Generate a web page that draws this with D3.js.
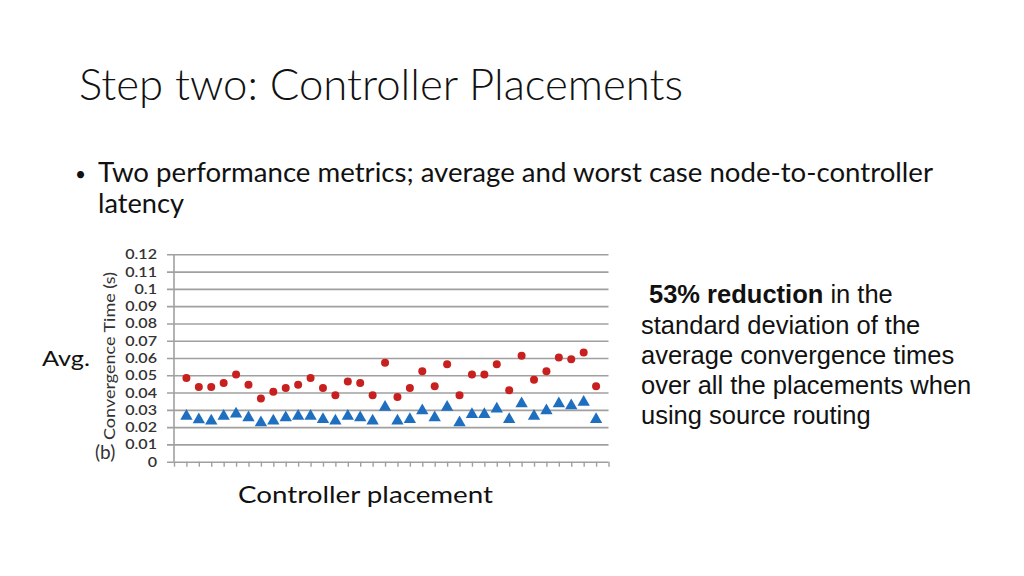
<!DOCTYPE html>
<html>
<head>
<meta charset="utf-8">
<script src="https://cdn.jsdelivr.net/npm/d3@7"></script>
<style>
  html, body { margin: 0; padding: 0; background: #fff; }
  svg { display: block; }
</style>
</head>
<body>
<svg id="chart" width="1024" height="576"></svg>
<script>
// ---- data ----
const placements = d3.range(1, 35); // 34 controller placements
const worstCase = [0.0484, 0.0432, 0.0432, 0.0455, 0.0505, 0.0445, 0.0365, 0.0405, 0.0426, 0.0445,
                   0.0484, 0.0426, 0.0385, 0.0464, 0.0455, 0.0385, 0.0572, 0.0374, 0.0426, 0.0524,
                   0.0436, 0.0564, 0.0385, 0.0505, 0.0505, 0.0564, 0.0414, 0.0613, 0.0474, 0.0524,
                   0.0603, 0.0593, 0.0632, 0.0436];
const average   = [0.0263, 0.0243, 0.0236, 0.0264, 0.0276, 0.0255, 0.0226, 0.0236, 0.0255, 0.0264,
                   0.0264, 0.0245, 0.0236, 0.0264, 0.0255, 0.0236, 0.0316, 0.0236, 0.0245, 0.0295,
                   0.0255, 0.0316, 0.0226, 0.0274, 0.0274, 0.0305, 0.0245, 0.0336, 0.0264, 0.0295,
                   0.0336, 0.0324, 0.0345, 0.0245];
const yTickValues = d3.range(0, 13).map(i => i / 100);
const yTickLabels = ["0", "0.01", "0.02", "0.03", "0.04", "0.05", "0.06", "0.07", "0.08", "0.09", "0.1", "0.11", "0.12"];
const xTickValues = d3.range(0, 36);

const titleText = "Step two: Controller Placements";
const bulletLines = ["Two performance metrics; average and worst case node-to-controller", "latency"];
const sideLines = ["standard deviation of the", "average convergence times", "over all the placements when", "using source routing"];

// ---- layout ----
const svg = d3.select("#chart");
const x = d3.scaleLinear().domain([0, 35]).range([174, 608.5]);
const y = d3.scaleLinear().domain([0, 0.12]).range([461.7, 254.3]);
const gridLeft = 167;
const gridColor = "#a0a0a0";
const calibri = "Lato, 'Open Sans', sans-serif";

// Title
svg.append("text")
  .attr("x", 79).attr("y", 100)
  .attr("font-family", calibri).attr("font-weight", 300)
  .attr("font-size", 44).attr("fill", "#111")
  .attr("textLength", 604).attr("lengthAdjust", "spacingAndGlyphs")
  .text(titleText);

// Bullet
svg.append("text")
  .attr("x", 75).attr("y", 181)
  .attr("font-family", calibri).attr("font-size", 19).attr("fill", "#111")
  .text("•");
svg.append("text")
  .attr("x", 98).attr("y", 182)
  .attr("font-family", calibri).attr("font-size", 27).attr("fill", "#111")
  .attr("textLength", 835).attr("lengthAdjust", "spacingAndGlyphs")
  .text(bulletLines[0]);
svg.append("text")
  .attr("x", 98).attr("y", 213)
  .attr("font-family", calibri).attr("font-size", 27).attr("fill", "#111")
  .attr("textLength", 86).attr("lengthAdjust", "spacingAndGlyphs")
  .text(bulletLines[1]);

// Gridlines + y tick labels via axis
const yAxis = d3.axisLeft(y)
  .tickValues(yTickValues)
  .tickSize(-(x.range()[1] - gridLeft))
  .tickPadding(10)
  .tickFormat((d, i) => yTickLabels[i]);
const gy = svg.append("g").attr("transform", `translate(${gridLeft},0)`).call(yAxis);
gy.select(".domain").remove();
gy.selectAll(".tick line").attr("stroke", gridColor).attr("stroke-width", 1.6);
gy.selectAll(".tick text")
  .attr("font-family", calibri).attr("font-size", 14).attr("font-weight", 600).attr("fill", "#333")
  .each(function () {
    const w = this.getComputedTextLength();
    d3.select(this).attr("textLength", w * 1.15).attr("lengthAdjust", "spacingAndGlyphs");
  });

// Vertical axis line
svg.append("line")
  .attr("x1", x(0)).attr("x2", x(0))
  .attr("y1", y(0)).attr("y2", y(0.12))
  .attr("stroke", gridColor).attr("stroke-width", 1.6);

// X axis ticks
const xAxis = d3.axisBottom(x).tickValues(xTickValues).tickSize(5).tickFormat("");
const gx = svg.append("g").attr("transform", `translate(0,${y(0)})`).call(xAxis);
gx.select(".domain").remove();
gx.selectAll(".tick line").attr("stroke", gridColor).attr("stroke-width", 1.4);

// Y axis title
svg.append("text")
  .attr("transform", `translate(115,${(y(0.12) + y(0.0)) / 2 - 2}) rotate(-90)`)
  .attr("text-anchor", "middle")
  .attr("font-family", calibri).attr("font-size", 16).attr("fill", "#333")
  .attr("textLength", 168).attr("lengthAdjust", "spacingAndGlyphs")
  .text("Convergence Time (s)");

// (b)
svg.append("text")
  .attr("x", 95).attr("y", 459)
  .attr("font-family", calibri).attr("font-size", 19).attr("fill", "#333")
  .text("(b)");

// Markers: worst case (red circles)
svg.append("g").selectAll("circle")
  .data(placements)
  .join("circle")
  .attr("cx", (d) => x(d))
  .attr("cy", (d, i) => y(worstCase[i]))
  .attr("r", 4)
  .attr("fill", "#c8201e");

// Markers: average (blue triangles)
const tri = d3.symbol().type(d3.symbolTriangle).size(66);
svg.append("g").selectAll("path")
  .data(placements)
  .join("path")
  .attr("d", tri)
  .attr("transform", (d, i) => `translate(${x(d)},${y(average[i])})`)
  .attr("fill", "#1f6fc0");

// Avg. label
svg.append("text")
  .attr("x", 42).attr("y", 366)
  .attr("font-family", calibri).attr("font-size", 22).attr("fill", "#111")
  .attr("textLength", 48).attr("lengthAdjust", "spacingAndGlyphs")
  .text("Avg.");

// X label
svg.append("text")
  .attr("x", 238).attr("y", 503)
  .attr("font-family", calibri).attr("font-size", 23).attr("fill", "#111")
  .attr("textLength", 255).attr("lengthAdjust", "spacingAndGlyphs")
  .text("Controller placement");

// Side annotation
const arial = "'Liberation Sans', Arial, sans-serif";
const first = svg.append("text")
  .attr("x", 649).attr("y", 303)
  .attr("font-family", arial).attr("font-size", 25.5).attr("fill", "#111");
first.append("tspan").attr("font-weight", "bold").text("53% reduction");
first.append("tspan").text(" in the");
sideLines.forEach((t, i) => {
  svg.append("text")
    .attr("x", 641).attr("y", 333.5 + i * 30.3)
    .attr("font-family", arial).attr("font-size", 25.5).attr("fill", "#111")
    .text(t);
});
</script>
</body>
</html>
